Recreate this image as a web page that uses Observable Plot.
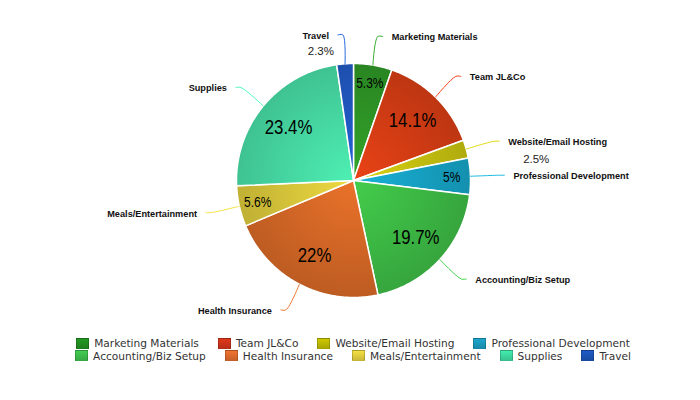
<!DOCTYPE html>
<html><head><meta charset="utf-8">
<script src="https://cdn.jsdelivr.net/npm/d3@7"></script>
<script src="https://cdn.jsdelivr.net/npm/@observablehq/plot@0.6"></script>
<style>
body{margin:0;background:#fff;width:700px;height:400px;overflow:hidden;font-family:"Liberation Sans",Arial,sans-serif;}
#legend{font-family:"DejaVu Sans",sans-serif;font-size:10.6px;color:#333;padding-left:6px;margin-top:7px}
.row{display:flex;justify-content:center;gap:19px;height:12.5px;line-height:12.5px}
.item{display:flex;align-items:center;white-space:nowrap}
.sw{width:13px;height:11px;margin-right:5px;box-sizing:border-box;border:1px solid rgba(0,0,0,0.18)}
</style></head><body>
<div id="chart"></div><div id="legend"></div>
<script>
const categories = ["Marketing Materials","Team JL&Co","Website/Email Hosting","Professional Development","Accounting/Biz Setup","Health Insurance","Meals/Entertainment","Supplies","Travel"];
const values = [5.3, 14.1, 2.5, 5, 19.7, 22, 5.6, 23.4, 2.3];
const valueLabels = ["5.3%","14.1%","2.5%","5%","19.7%","22%","5.6%","23.4%","2.3%"];
const colors = ["#2e9426","#d23c14","#c4be10","#16a0c2","#3cb844","#d26626","#d6c43a","#46d8a2","#2058c0"];
const legendColors = ["#1f8a1f","#c8321a","#b8b400","#1a96b8","#3cb84a","#d8682c","#dcc83c","#3cd49c","#1a52b0"];
const legendRows = [[0,1,2,3],[4,5,6,7,8]];

const R = 117;       // pie radius (chart units)
const RL = 146;      // leader elbow radius
const data = categories.map((name, i) => ({name, value: values[i], label: valueLabels[i], color: colors[i]}));
const arcs = d3.pie().sort(null).value(d => d.value)(data);

const pt = (a, r) => ({x: r * Math.sin(a), y: -r * Math.cos(a)});

const slices = arcs.map((a, i) => {
  const pts = [{x: 0, y: 0}];
  const n = Math.max(4, Math.ceil((a.endAngle - a.startAngle) / 0.01));
  for (let k = 0; k <= n; k++) pts.push(pt(a.startAngle + (a.endAngle - a.startAngle) * k / n, R));
  pts.push({x: 0, y: 0});
  return pts;
});

const info = arcs.map((a, i) => {
  const mid = (a.startAngle + a.endAngle) / 2;
  const side = Math.sin(mid) >= 0 ? 1 : -1;
  const edge = pt(mid, R), elbow = pt(mid, RL);
  const end = {x: elbow.x + side * 5, y: elbow.y};
  const small = a.data.value < 3;
  const inner = pt(mid, (a.data.value < 8 ? 0.84 : 0.72) * R);
  return {...a.data, i, mid, side, edge, elbow, end, small, inner};
});

const marks = [];
slices.forEach((pts, i) => marks.push(Plot.line(pts, {x: "x", y: "y", fill: `url(#grad${i})`, stroke: "white", strokeWidth: 1.5, strokeLinejoin: "round"})));
info.forEach(d => marks.push(Plot.line([d.edge, d.elbow, d.end], {x: "x", y: "y", stroke: d3.color(d.color).brighter(0.4).formatHex(), strokeWidth: 1, curve: "catmull-rom"})));
const right = info.filter(d => d.side > 0), left = info.filter(d => d.side < 0);
const nameStyle = {fontWeight: "bold", fontSize: 9.2, fill: "#111", fontFamily: "Liberation Sans, Arial, sans-serif"};
marks.push(Plot.text(right, {x: d => d.end.x, y: d => d.end.y, text: "name", textAnchor: "start", dx: 9, dy: 1, ...nameStyle}));
marks.push(Plot.text(left, {x: d => d.end.x, y: d => d.end.y, text: "name", textAnchor: "end", dx: -9, dy: 1, ...nameStyle}));
// outside percentages for tiny slices
marks.push(Plot.text(right.filter(d => d.small), {x: d => d.end.x, y: d => d.end.y, text: "label", textAnchor: "start", dx: 24, dy: 18, fontSize: 11.5, fill: "#222"}));
marks.push(Plot.text(left.filter(d => d.small), {x: d => d.end.x, y: d => d.end.y, text: "label", textAnchor: "end", dx: -4, dy: 16, fontSize: 11.5, fill: "#222"}));
// inner percentages (condensed)
const innerFont = "Liberation Sans, Arial, sans-serif";
marks.push(Plot.text(info.filter(d => !d.small && d.value >= 8), {x: d => d.inner.x, y: d => d.inner.y, text: "label", fontSize: 21, fill: "#000", fontFamily: innerFont, className: "cond"}));
marks.push(Plot.text(info.filter(d => !d.small && d.value < 8), {x: d => d.inner.x, y: d => d.inner.y, text: "label", fontSize: 15, fill: "#000", fontFamily: innerFont, className: "cond"}));

const chart = Plot.plot({
  width: 700, height: 330, margin: 0,
  x: {domain: [-353, 347], range: [0, 700], axis: null},
  y: {domain: [-180, 150], range: [0, 330], axis: null},
  style: {background: "white", fontFamily: "Liberation Sans, Arial, sans-serif"},
  marks
});

// condense the in-slice percentage labels horizontally about their anchor
const S = 0.8;
d3.select(chart).selectAll("g.cond text").each(function () {
  const t = d3.select(this);
  let x = +t.attr("x");
  const tr = t.attr("transform");
  if (tr && /translate\(([-\d.]+)/.test(tr) && !t.attr("x")) {
    const m = tr.match(/translate\(([-\d.e]+)[ ,]+([-\d.e]+)\)/);
    t.attr("transform", `translate(${m[1]},${m[2]}) scale(${S},1)`);
  } else {
    t.attr("transform", `translate(${x * (1 - S)},0) scale(${S},1)`);
  }
});

// radial gradients centred on the pie
const cx = chart.scale("x").apply(0), cy = chart.scale("y").apply(0);
const rpx = chart.scale("x").apply(R) - cx;
const defs = d3.select(chart).insert("defs", ":first-child");
colors.forEach((c, i) => {
  const g = defs.append("radialGradient").attr("id", `grad${i}`).attr("gradientUnits", "userSpaceOnUse")
    .attr("cx", cx).attr("cy", cy).attr("r", rpx);
  g.append("stop").attr("offset", "0%").attr("stop-color", d3.color(c).brighter(0.3).formatHex());
  g.append("stop").attr("offset", "100%").attr("stop-color", d3.color(c).darker(0.3).formatHex());
});
document.getElementById("chart").appendChild(chart);

const legend = d3.select("#legend");
legendRows.forEach(row => {
  const r = legend.append("div").attr("class", "row");
  row.forEach(i => {
    const it = r.append("div").attr("class", "item");
    const c = legendColors[i];
    it.append("span").attr("class", "sw")
      .style("background", `linear-gradient(${d3.color(c).brighter(0.3).formatHex()}, ${d3.color(c).darker(0.2).formatHex()})`);
    it.append("span").text(categories[i]);
  });
});
</script>
</body></html>
